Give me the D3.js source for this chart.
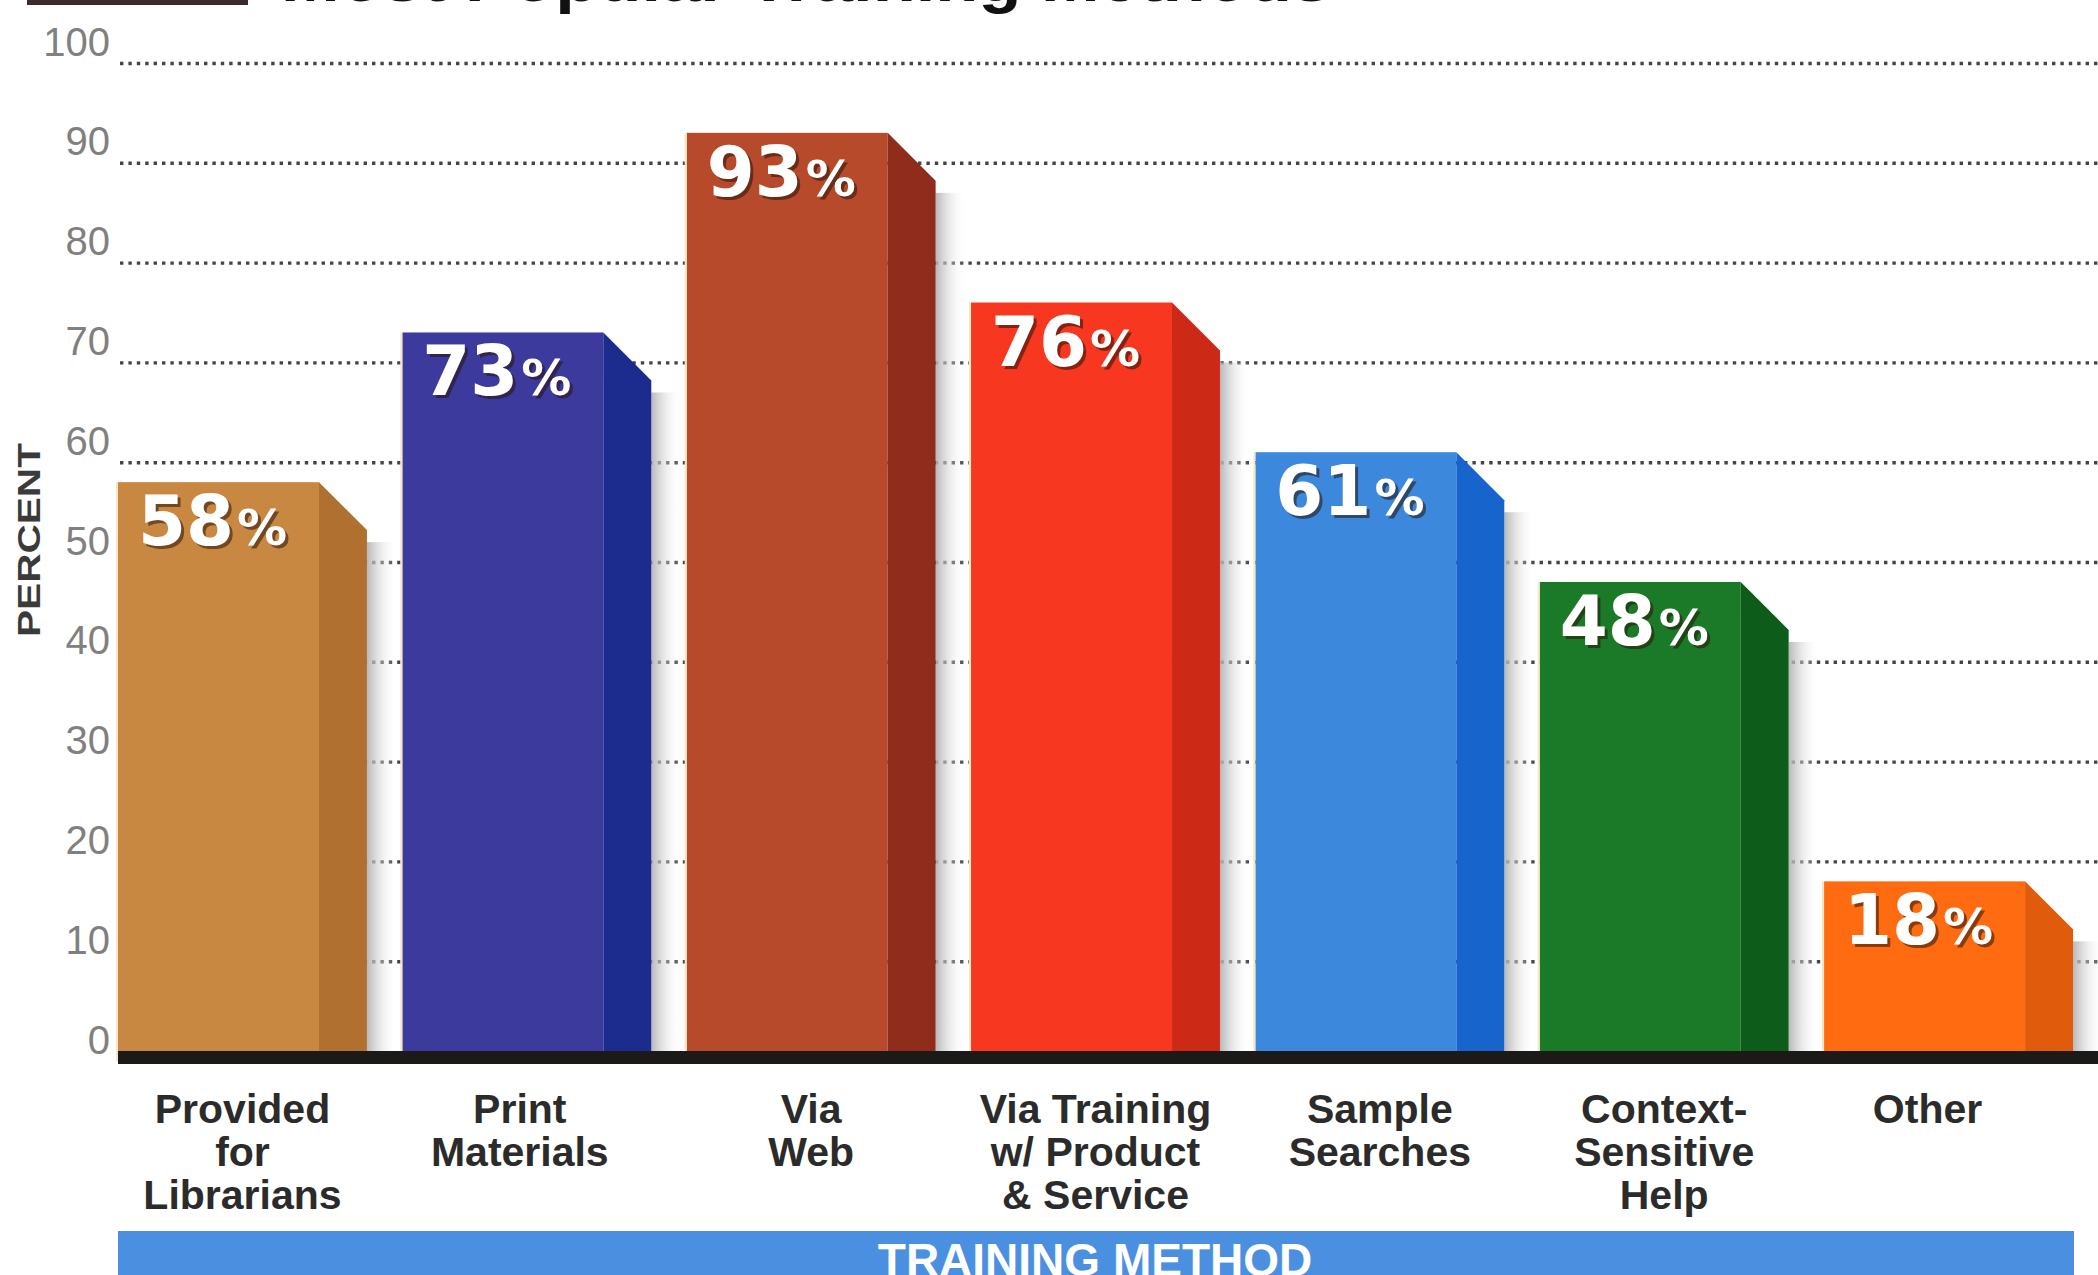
<!DOCTYPE html>
<html>
<head>
<meta charset="utf-8">
<script src="https://cdn.jsdelivr.net/npm/d3@7"></script>
<style>
  body { margin: 0; background: #fff; }
  svg { display: block; }
</style>
</head>
<body>
<div id="vis"></div>
<script>
var W = 2098, H = 1275;

// data
var categories = ["Provided for Librarians", "Print Materials", "Via Web",
    "Via Training w/ Product & Service", "Sample Searches",
    "Context-Sensitive Help", "Other"];
var labelLines = [["Provided", "for", "Librarians"], ["Print", "Materials"], ["Via", "Web"],
    ["Via Training", "w/ Product", "& Service"], ["Sample", "Searches"],
    ["Context-", "Sensitive", "Help"], ["Other"]];
var values = [58, 73, 93, 76, 61, 48, 18];
var frontColors = ["#c98842", "#3d3a9e", "#b64a2b", "#f7371f", "#3b88dc", "#1b7a28", "#ff6b10"];
var sideColors = ["#b0702f", "#1b2b8e", "#8f2c1c", "#cc2a17", "#1765cc", "#0e5c19", "#e05c0c"];
var yTicks = [0, 10, 20, 30, 40, 50, 60, 70, 80, 90, 100];

var svg = d3.select("#vis")
    .append("svg")
    .attr("width", W)
    .attr("height", H);

var defs = svg.append("defs");
var grad = defs.append("linearGradient")
    .attr("id", "shadow")
    .attr("x1", "0").attr("x2", "1").attr("y1", "0").attr("y2", "0");
grad.append("stop").attr("offset", "0").attr("stop-color", "#b0b0b0").attr("stop-opacity", 0.9);
grad.append("stop").attr("offset", "1").attr("stop-color", "#ffffff").attr("stop-opacity", 0);

var y = d3.scaleLinear().domain([0, 100]).range([1061, 63]);
var x = d3.scaleBand()
    .domain(categories)
    .range([118, 2073])
    .paddingInner(0.1245)
    .paddingOuter(0);

var bw = x.bandwidth();
var frontW = Math.round(bw * 0.807);
var sideW = bw - frontW;

// title, mostly cut off at the top edge
svg.append("rect")
    .attr("x", 27).attr("y", 0).attr("width", 221).attr("height", 5)
    .attr("fill", "#3b2b2b");
svg.append("text")
    .attr("x", 281).attr("y", 1)
    .attr("textLength", 1050)
    .attr("lengthAdjust", "spacingAndGlyphs")
    .style("font-family", "'Liberation Sans', Arial, sans-serif")
    .style("font-weight", "900")
    .style("font-size", "64px")
    .attr("fill", "#111")
    .text("Most Popular Training Methods");

// dotted gridlines
var grid = d3.axisLeft(y)
    .tickValues(yTicks)
    .tickSize(-(W - 120))
    .tickFormat("");
svg.append("g")
    .attr("class", "grid")
    .attr("transform", "translate(120,0)")
    .call(grid)
    .call(g => g.select(".domain").remove())
    .call(g => g.selectAll("line")
        .attr("stroke", "#444")
        .attr("stroke-width", 3.4)
        .attr("stroke-dasharray", "3.4,5"));

// tick labels
var yAxis = d3.axisLeft(y)
    .tickValues(yTicks)
    .tickSize(0)
    .tickPadding(0);
svg.append("g")
    .attr("class", "y axis")
    .attr("transform", "translate(110,0)")
    .call(yAxis)
    .call(g => g.select(".domain").remove())
    .call(g => g.selectAll("text")
        .attr("dy", "-8")
        .attr("fill", "#808080")
        .style("font-family", "'Liberation Sans', Arial, sans-serif")
        .style("font-size", "40px"));

svg.append("text")
    .attr("transform", "translate(40,540) rotate(-90)")
    .attr("text-anchor", "middle")
    .attr("textLength", 194)
    .attr("lengthAdjust", "spacingAndGlyphs")
    .attr("fill", "#3a3a3a")
    .style("font-family", "'Liberation Sans', Arial, sans-serif")
    .style("font-weight", "bold")
    .style("font-size", "31px")
    .text("PERCENT");

var labelShift = [0, -7, 0, 0, 0, 0, -21];

var data = categories.map((c, i) => ({ cat: c, value: values[i], lines: labelLines[i], front: frontColors[i], side: sideColors[i], shift: labelShift[i] }));

var bars = svg.selectAll("g.bar")
    .data(data)
    .enter().append("g")
    .attr("class", "bar");

// soft shadow to the right of each bar
bars.append("rect")
    .attr("x", d => x(d.cat) + bw)
    .attr("y", d => y(d.value) + 60)
    .attr("width", 30)
    .attr("height", d => y(0) - y(d.value) - 60)
    .attr("fill", "url(#shadow)");

bars.append("rect")
    .attr("x", d => x(d.cat))
    .attr("y", d => y(d.value))
    .attr("width", frontW)
    .attr("height", d => y(0) - y(d.value))
    .attr("fill", d => d.front);

bars.append("path")
    .attr("d", function (d) {
        var x0 = x(d.cat) + frontW, x1 = x(d.cat) + bw, t = y(d.value), b = y(0);
        return "M" + x0 + "," + t + "L" + x1 + "," + (t + sideW) + "L" + x1 + "," + b + "L" + x0 + "," + b + "Z";
    })
    .attr("fill", d => d.side);

// pale edge on the left of each bar
bars.append("rect")
    .attr("x", d => x(d.cat) - 2)
    .attr("y", d => y(d.value))
    .attr("width", 2)
    .attr("height", d => y(0) - y(d.value))
    .attr("fill", "#f3e7c4");

// value labels: shadow copy then white
function valueLabel(sel, fill, dx, dy) {
    var t = sel.append("text")
        .attr("x", d => x(d.cat) + 20 + dx)
        .attr("y", d => y(d.value) + 63 + dy)
        .attr("fill", fill)
        .style("font-family", "'DejaVu Sans', Verdana, sans-serif")
        .style("font-weight", "bold");
    t.append("tspan")
        .style("font-size", "69px")
        .text(d => d.value);
    t.append("tspan")
        .attr("dx", 3)
        .style("font-size", "50px")
        .text("%");
    return t;
}
valueLabel(bars, "rgba(40,20,10,0.55)", 3, 3);
valueLabel(bars, "#ffffff", 0, 0);

// baseline
svg.append("rect")
    .attr("x", 118)
    .attr("y", y(0) - 10)
    .attr("width", W - 118)
    .attr("height", 13)
    .attr("fill", "#1c1a18");

// category labels
var cat = bars.append("text")
    .attr("text-anchor", "middle")
    .attr("fill", "#2b2b2b")
    .style("font-family", "'Liberation Sans', Arial, sans-serif")
    .style("font-weight", "bold")
    .style("font-size", "41px");
cat.selectAll("tspan")
    .data(d => d.lines.map(l => ({ line: l, cx: x(d.cat) + bw / 2 + d.shift })))
    .enter().append("tspan")
    .attr("x", d => d.cx)
    .attr("y", (d, i) => 1123 + i * 43)
    .text(d => d.line);

// x axis title band
svg.append("rect")
    .attr("x", 118)
    .attr("y", 1231)
    .attr("width", 2074 - 118)
    .attr("height", H - 1231)
    .attr("fill", "#4b8fe0");
svg.append("text")
    .attr("x", 1095)
    .attr("y", 1276)
    .attr("text-anchor", "middle")
    .attr("fill", "#fff")
    .style("font-family", "'Liberation Sans', Arial, sans-serif")
    .style("font-weight", "bold")
    .style("font-size", "46px")
    .text("TRAINING METHOD");
</script>
</body>
</html>
